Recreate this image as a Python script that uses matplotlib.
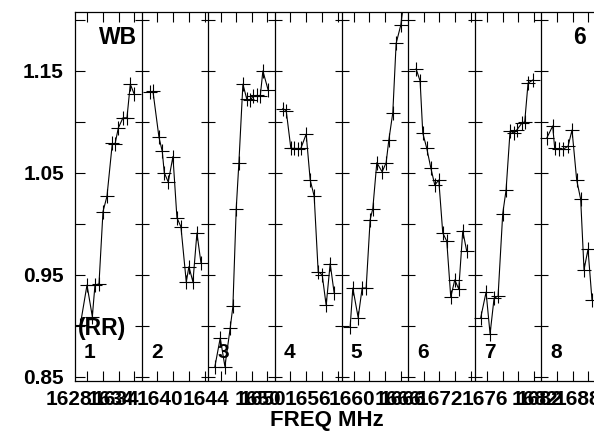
import matplotlib.pyplot as plt
import matplotlib.transforms as mtransforms
import numpy as np

# data, x in panel units (each panel 0..1)
x1 = [0.08, 0.18, 0.26, 0.30, 0.36, 0.42, 0.48, 0.56, 0.60, 0.65, 0.72, 0.78, 0.83, 0.89]
y1 = [0.901, 0.940, 0.909, 0.940, 0.941, 1.012, 1.027, 1.079, 1.078, 1.094, 1.104, 1.104, 1.137, 1.127]
x2 = [0.13, 0.17, 0.26, 0.31, 0.34, 0.40, 0.47, 0.53, 0.59, 0.67, 0.71, 0.77, 0.83, 0.89]
y2 = [1.129, 1.130, 1.085, 1.071, 1.050, 1.041, 1.066, 1.006, 0.997, 0.943, 0.958, 0.943, 0.991, 0.962]
x3 = [0.10, 0.18, 0.25, 0.33, 0.37, 0.42, 0.46, 0.52, 0.58, 0.63, 0.67, 0.73, 0.78, 0.82, 0.90]
y3 = [0.860, 0.888, 0.860, 0.898, 0.919, 1.015, 1.060, 1.137, 1.122, 1.121, 1.125, 1.126, 1.125, 1.150, 1.131]
x4 = [0.12, 0.17, 0.24, 0.29, 0.35, 0.39, 0.47, 0.53, 0.59, 0.65, 0.71, 0.77, 0.83, 0.89]
y4 = [1.113, 1.111, 1.074, 1.074, 1.073, 1.074, 1.088, 1.043, 1.027, 0.953, 0.950, 0.920, 0.961, 0.932]
x5 = [0.13, 0.17, 0.25, 0.31, 0.37, 0.43, 0.47, 0.53, 0.61, 0.67, 0.71, 0.77, 0.82, 0.89, 0.93]
y5 = [0.899, 0.937, 0.908, 0.937, 0.937, 1.004, 1.015, 1.060, 1.051, 1.060, 1.082, 1.109, 1.177, 1.195, 1.215]
x6 = [0.12, 0.18, 0.22, 0.28, 0.34, 0.40, 0.46, 0.52, 0.58, 0.64, 0.70, 0.76, 0.82, 0.88]
y6 = [1.152, 1.140, 1.089, 1.074, 1.055, 1.038, 1.043, 0.991, 0.983, 0.928, 0.945, 0.936, 0.993, 0.973]
x7 = [0.09, 0.17, 0.23, 0.29, 0.35, 0.42, 0.47, 0.53, 0.59, 0.63, 0.71, 0.75, 0.80, 0.87]
y7 = [0.908, 0.933, 0.892, 0.927, 0.929, 1.010, 1.033, 1.091, 1.089, 1.092, 1.099, 1.100, 1.138, 1.141]
x8 = [0.08, 0.17, 0.20, 0.26, 0.32, 0.40, 0.46, 0.53, 0.59, 0.64, 0.70, 0.76]
y8 = [1.084, 1.096, 1.074, 1.073, 1.073, 1.076, 1.092, 1.043, 1.024, 0.955, 0.975, 0.925]

panel_names = ['1', '2', '3', '4', '5', '6', '7', '8']

# frequency labels (they overlap in the original)
freq_pos = [-0.09, 0.54, 0.615, 1.276, 1.966, 2.747, 2.822, 3.497, 4.158,
            4.848, 4.923, 5.478, 6.154, 6.904, 6.98, 7.55]
freq_txt = ['1628', '1634', '1634', '1640', '1644', '1650', '1650', '1656', '1660',
            '1666', '1666', '1672', '1676', '1682', '1682', '1688']

odd_ticks = [0.185, 0.42, 0.653, 0.886]
even_ticks = [0.233, 0.47, 0.705, 0.946]

ylab = [0.85, 0.95, 1.05, 1.15]
yminor = [0.90, 1.00, 1.10, 1.20]

plt.rcParams['font.family'] = ['Liberation Sans', 'DejaVu Sans']
plt.rcParams['font.weight'] = 'bold'

fig = plt.figure(figsize=(5.94, 4.34), dpi=100)
ax = fig.add_axes([75/594, 53/434, 533/594, 369/434])

xs_all = [x1, x2, x3, x4, x5, x6, x7, x8]
ys_all = [y1, y2, y3, y4, y5, y6, y7, y8]
for k in range(8):
    ax.plot(np.array(xs_all[k]) + k, ys_all[k], color='k', lw=0.8,
            marker='+', ms=9.5, mew=0.8)

ax.set_xlim(0, 8)
ax.set_ylim(0.8458, 1.2078)

# panel separators with ticks on both sides
yt_all = sorted(ylab + yminor)
for k in range(1, 8):
    ax.axvline(k, color='k', lw=0.9)
    ax.plot([k] * len(yt_all), yt_all, ls='none', marker='_', ms=10,
            mew=0.8, color='k')

# x ticks (unlabelled) per panel
minor = []
for k in range(8):
    base = odd_ticks if k % 2 == 0 else even_ticks
    minor += [k + t for t in base]
ax.set_xticks(minor, minor=True)
ax.set_xticks([])
ax.tick_params(axis='x', which='minor', direction='in', length=7, width=0.8,
               top=True, bottom=True)

ax.set_yticks(ylab)
ax.set_yticks(yminor, minor=True)
ax.set_yticklabels(['%.2f' % v for v in ylab])
ax.tick_params(axis='y', which='both', direction='in', length=7, width=0.8,
               labelsize=15, pad=8)

for s in ax.spines.values():
    s.set_linewidth(0.9)

trans = mtransforms.blended_transform_factory(ax.transData, ax.transAxes)
for p, t in zip(freq_pos, freq_txt):
    ax.text(p, -0.025, t, transform=trans, ha='center', va='top',
            fontsize=15, fontweight='bold', clip_on=False)

for k, name in enumerate(panel_names):
    ax.text(k + 0.225, 0.076, name, transform=trans, ha='center', va='center',
            fontsize=15, fontweight='bold')

ax.text(0.0807, 0.932, 'WB', transform=ax.transAxes, ha='center', va='center',
        fontsize=16.5, fontweight='bold')
ax.text(0.9456, 0.932, '6', transform=ax.transAxes, ha='center', va='center',
        fontsize=16.5, fontweight='bold')
ax.text(0.0507, 0.141, '(RR)', transform=ax.transAxes, ha='center', va='center',
        fontsize=16.5, fontweight='bold')

fig.text(327/594, 0.030, 'FREQ MHz', ha='center', va='center',
         fontsize=16, fontweight='bold')

fig.savefig('out.png', dpi=100)
